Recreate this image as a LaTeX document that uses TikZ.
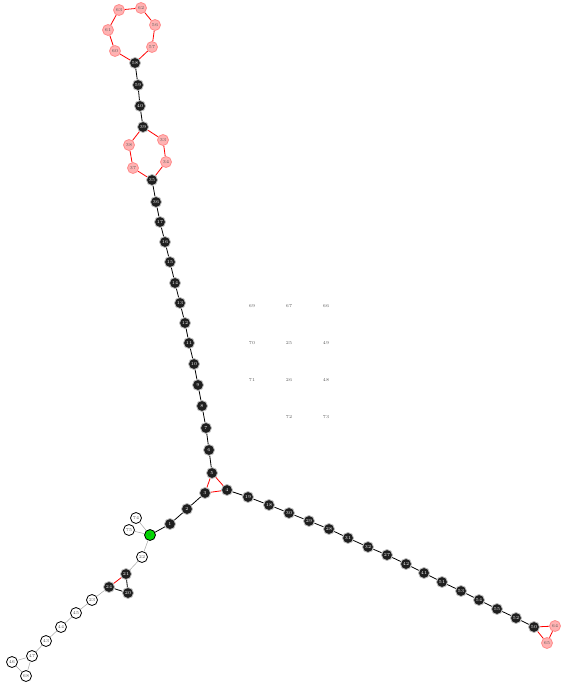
\documentclass[tikz,border=0pt]{standalone}
\begin{document}
\begin{tikzpicture}[x=1pt,y=-1pt,
  every node/.style={font=\fontsize{4.5}{5}\selectfont},
  bn/.style={circle,fill=black!88,draw=black!25,line width=0.8pt,inner sep=0pt,minimum size=11pt,text=white},
  pn/.style={circle,fill=red!30,draw=red!45,line width=0.8pt,inner sep=0pt,minimum size=11pt,text=black!65},
  wn/.style={circle,fill=white,draw=black,line width=0.8pt,inner sep=0pt,minimum size=11pt,text=black!65},
  gn/.style={circle,fill=green!85!black,draw=black,line width=0.8pt,inner sep=0pt,minimum size=11pt,text=black!65},
  lb/.style={text=black!65},
  be/.style={black,line width=0.8pt},
  re/.style={red,line width=0.8pt},
  ge/.style={black!35,line width=0.5pt}]
\useasboundingbox (0,0) rectangle (562,685);
% top loop
\node[pn] (n63) at (119,10) {63};
\node[pn] (n62) at (141,8) {62};
\node[pn] (n56) at (155,25) {56};
\node[pn] (n57) at (152,47) {57};
\node[pn] (n60) at (115,51) {60};
\node[pn] (n61) at (108,30) {61};
\node[bn] (n58) at (135,63) {58};
\node[bn] (n59) at (138,85) {59};
\node[bn] (n40) at (140,106) {40};
\node[bn] (n39) at (143,127) {39};
\node[pn] (n33) at (163,140) {33};
\node[pn] (n34) at (166,162) {34};
\node[bn] (n35) at (152,180) {35};
\node[pn] (n37) at (133,168) {37};
\node[pn] (n38) at (129,145) {38};
\node[bn] (n36) at (156,202) {36};
\node[bn] (n17) at (160,222) {17};
\node[bn] (n16) at (165,242) {16};
\node[bn] (n15) at (170,262) {15};
\node[bn] (n14) at (175,283) {14};
\node[bn] (n13) at (180,303) {13};
\node[bn] (n12) at (185,323) {12};
\node[bn] (n11) at (189,343) {11};
\node[bn] (n10) at (194,364) {10};
\node[bn] (n9) at (198,385) {9};
\node[bn] (n8) at (202,406) {8};
\node[bn] (n7) at (206,428) {7};
\node[bn] (n6) at (209,450) {6};
\node[bn] (n5) at (212,473) {5};
\node[bn] (n3) at (205,493) {3};
\node[bn] (n4) at (227,490) {4};
\node[bn] (n2) at (187,509) {2};
\node[bn] (n1) at (170,524) {1};
\node[gn] (n0) at (150,535) {0};
\node[wn] (n74) at (136,518) {74};
\node[wn] (n75) at (129,530) {75};
% right chain
\node[bn] (c1) at (248,497) {19};
\node[bn] (c2) at (269,505) {18};
\node[bn] (c3) at (289,513) {30};
\node[bn] (c4) at (309,521) {29};
\node[bn] (c5) at (329,529) {28};
\node[bn] (c6) at (348,538) {31};
\node[bn] (c7) at (368,547) {32};
\node[bn] (c8) at (387,555) {27};
\node[bn] (c9) at (406,564) {42};
\node[bn] (c10) at (424,573) {41};
\node[bn] (c11) at (442,582) {51};
\node[bn] (c12) at (461,591) {53};
\node[bn] (c13) at (479,600) {54};
\node[bn] (c14) at (497,609) {55};
\node[bn] (c15) at (516,618) {52};
\node[bn] (c16) at (534,627) {50};
\node[pn] (n64) at (555,626) {64};
\node[pn] (n65) at (547,643) {65};
% lower left
\node[wn] (n22) at (142,557) {22};
\node[bn] (n21) at (126,574) {21};
\node[bn] (n20) at (128,593) {20};
\node[bn] (n24) at (109,587) {24};
\node[wn] (n23) at (92,600) {23};
\node[wn] (n45) at (76,613) {45};
\node[wn] (n44) at (61,627) {44};
\node[wn] (n43) at (46,641) {43};
\node[wn] (n47) at (32,656) {47};
\node[wn] (n46) at (12,662) {46};
\node[wn] (n68) at (26,676) {68};
% grid labels
\node[lb] (g69) at (252,306) {69};
\node[lb] (g67) at (289,306) {67};
\node[lb] (g66) at (326,306) {66};
\node[lb] (g70) at (252,343) {70};
\node[lb] (g25) at (289,343) {25};
\node[lb] (g49) at (326,343) {49};
\node[lb] (g71) at (252,380) {71};
\node[lb] (g26) at (289,380) {26};
\node[lb] (g48) at (326,380) {48};
\node[lb] (g72) at (289,417) {72};
\node[lb] (g73) at (326,417) {73};
% edges
\draw[re] (n58)--(n57)--(n56)--(n62)--(n63)--(n61)--(n60)--(n58);
\draw[be] (n58)--(n59)--(n40)--(n39);
\draw[re] (n39)--(n33)--(n34)--(n35)--(n37)--(n38)--(n39);
\draw[be] (n35)--(n36)--(n17)--(n16)--(n15)--(n14)--(n13)--(n12)--(n11)--(n10)--(n9)--(n8)--(n7)--(n6)--(n5);
\draw[re] (n5)--(n3)--(n4)--(n5);
\draw[be] (n3)--(n2)--(n1)--(n0);
\draw[be] (n4)--(c1)--(c2)--(c3)--(c4)--(c5)--(c6)--(c7)--(c8)--(c9)--(c10)--(c11)--(c12)--(c13)--(c14)--(c15)--(c16);
\draw[re] (c16)--(n64)--(n65)--(c16);
\draw[ge] (n0)--(n74);
\draw[ge] (n0)--(n75);
\draw[ge] (n0)--(n22)--(n21);
\draw[be] (n21)--(n20)--(n24);
\draw[re] (n24)--(n21);
\draw[ge] (n24)--(n23)--(n45)--(n44)--(n43)--(n47)--(n46)--(n68)--(n47);
\end{tikzpicture}
\end{document}
